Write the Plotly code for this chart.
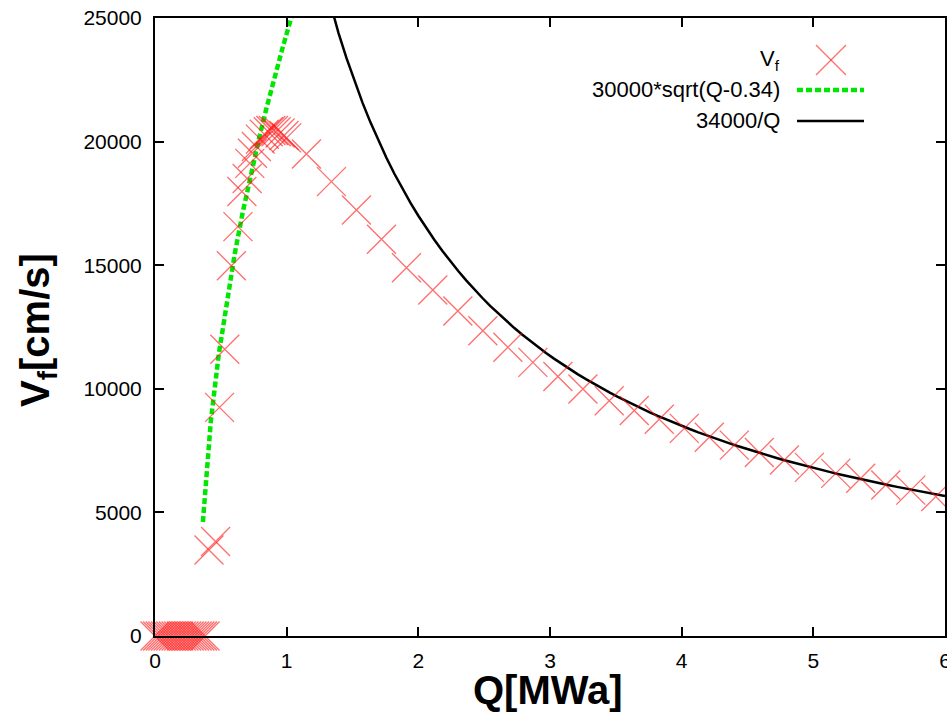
import plotly.graph_objects as go

# ---- data ----
q_data = [0.00, 0.02, 0.04, 0.06, 0.08, 0.10, 0.12, 0.14, 0.16, 0.18,
          0.20, 0.22, 0.24, 0.26, 0.28, 0.30, 0.32, 0.34, 0.36, 0.38,
          0.41, 0.46, 0.49, 0.53, 0.58, 0.63, 0.66, 0.70, 0.72, 0.74,
          0.77, 0.80, 0.83, 0.86, 0.88, 0.90, 0.92, 0.95, 0.98, 1.00,
          1.15, 1.34, 1.53, 1.72, 1.91, 2.11, 2.30, 2.49, 2.68, 2.87,
          3.06, 3.25, 3.45, 3.64, 3.83, 4.02, 4.21, 4.40, 4.59, 4.78,
          4.97, 5.17, 5.36, 5.55, 5.74, 5.93]
v_data = [0, 0, 0, 0, 0, 0, 0, 0, 0, 0,
          0, 0, 0, 0, 0, 0, 0, 0, 0, 0,
          3480, 3820, 9250, 11600, 14980, 16560, 17980, 18510, 19120, 19530,
          19800, 20100, 20300, 20400, 20450, 20450, 20400, 20350, 20250, 20150,
          19500, 18380, 17230, 16050, 14900, 14000, 13150, 12350, 11680, 11070,
          10500, 9990, 9520, 9120, 8770, 8400, 8040, 7720, 7420, 7120,
          6820, 6580, 6380, 6110, 5900, 5640]

# sample grid for the analytic curves named in the legend (gnuplot-like 100 samples on [0, 6])
q_samples = [6 * i / 99 for i in range(100)]
sqrt_q = [q for q in q_samples if q > 0.34]
sqrt_v = [30000 * (q - 0.34) ** 0.5 for q in sqrt_q]
inv_q = [q for q in q_samples if q > 0]
inv_v = [34000 / q for q in inv_q]

x_ticks = [0, 1, 2, 3, 4, 5, 6]
y_ticks = [0, 5000, 10000, 15000, 20000, 25000]

legend_labels = ["V<sub>f</sub>", "30000*sqrt(Q-0.34)", "34000/Q"]

RED = "rgba(255,20,20,0.62)"
GREEN = "#00e600"
GREEN_DASH = "6px,3px"
FONT = "Liberation Sans, Arial, sans-serif"

fig = go.Figure()
fig.add_trace(go.Scatter(
    x=sqrt_q, y=sqrt_v, mode="lines",
    line=dict(color=GREEN, width=4.5, dash=GREEN_DASH), showlegend=False))
fig.add_trace(go.Scatter(
    x=inv_q, y=inv_v, mode="lines",
    line=dict(color="black", width=2.5), showlegend=False))
fig.add_trace(go.Scatter(
    x=q_data, y=v_data, mode="markers", cliponaxis=False,
    marker=dict(symbol="x-thin", size=29, line=dict(color=RED, width=1.3)),
    showlegend=False))

W, H = 947, 714
# plot-area geometry in pixels
L, R, T, B = 155, 945, 18, 636
def px(x):
    return (x - L) / (R - L)
def py(y):
    return (B - y) / (B - T)

key_rows = [60, 90, 121]
text_x = px(782)
annotations = []
for lab, yy in zip(legend_labels, key_rows):
    annotations.append(dict(
        xref="paper", yref="paper", x=text_x, y=py(yy), text=lab,
        showarrow=False, xanchor="right", yanchor="middle",
        font=dict(family=FONT, size=22, color="black")))

# axis titles
annotations.append(dict(
    xref="paper", yref="paper", x=px(548), y=py(690), text="<b>Q[MWa]</b>",
    showarrow=False, xanchor="center", yanchor="middle",
    font=dict(family=FONT, size=40, color="black")))
annotations.append(dict(
    xref="paper", yref="paper", x=px(38), y=py(330), text="<b>V<sub>f</sub>[cm/s]</b>",
    showarrow=False, xanchor="center", yanchor="middle", textangle=-90,
    font=dict(family=FONT, size=40, color="black")))

shapes = [
    dict(type="line", xref="paper", yref="paper",
         x0=px(797), x1=px(864), y0=py(90), y1=py(90),
         line=dict(color=GREEN, width=4.5, dash=GREEN_DASH)),
    dict(type="line", xref="paper", yref="paper",
         x0=px(797), x1=px(864), y0=py(121), y1=py(121),
         line=dict(color="black", width=2.5)),
    dict(type="line", xref="paper", yref="paper",
         x0=px(816), x1=px(846), y0=py(45), y1=py(75),
         line=dict(color=RED, width=1.3)),
    dict(type="line", xref="paper", yref="paper",
         x0=px(816), x1=px(846), y0=py(75), y1=py(45),
         line=dict(color=RED, width=1.3)),
]

axis_common = dict(
    showgrid=False, zeroline=False, showline=True, linecolor="black",
    linewidth=2, mirror="ticks", ticks="inside", ticklen=9, tickwidth=1.5,
    tickcolor="black", automargin=False, ticklabeloverflow="allow",
    tickfont=dict(family=FONT, size=21, color="black"))

fig.update_layout(
    width=W, height=H,
    margin=dict(l=L, r=W - R, t=T, b=H - B, pad=0),
    plot_bgcolor="white", paper_bgcolor="white",
    xaxis=dict(range=[0, 6], tickvals=x_ticks, ticktext=[str(t) for t in x_ticks],
               ticklabelstandoff=5, **axis_common),
    yaxis=dict(range=[0, 25000], tickvals=y_ticks, ticktext=[str(t) for t in y_ticks],
               ticklabelstandoff=7, **axis_common),
    annotations=annotations, shapes=shapes, showlegend=False,
)

fig.write_html(
    "out.html",
    config={"displayModeBar": False},
    post_script="document.body.style.margin='0';document.body.style.overflow='hidden';",
)
